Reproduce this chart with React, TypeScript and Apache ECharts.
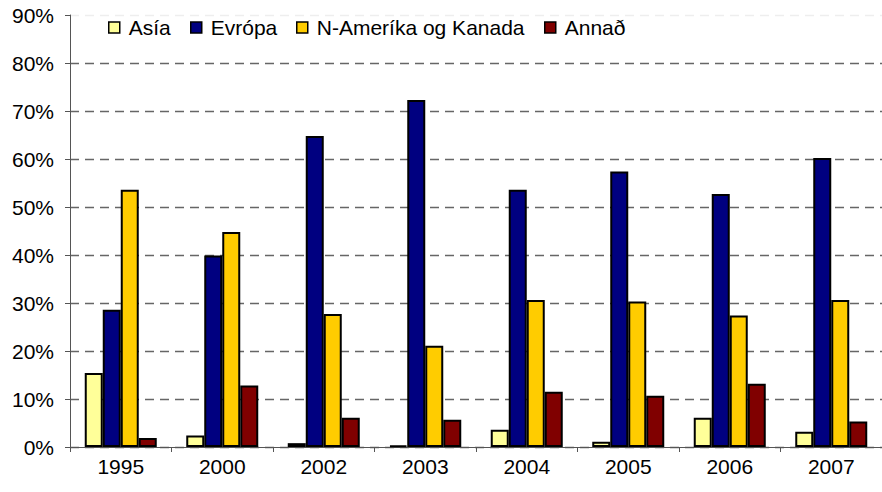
import React, { useEffect, useRef } from "react";
import * as echarts from "echarts";

const categories = ["1995", "2000", "2002", "2003", "2004", "2005", "2006", "2007"];
const asia = [15.4, 2.4, 0.8, 0.3, 3.6, 1.1, 6.1, 3.2];
const evropa = [28.6, 39.9, 64.8, 72.3, 53.6, 57.4, 52.7, 60.2];
const namerika = [53.6, 44.8, 27.7, 21.1, 30.6, 30.3, 27.4, 30.6];
const annad = [1.9, 12.8, 6.1, 5.7, 11.5, 10.7, 13.2, 5.3];
const seriesNames = ["Asía", "Evrópa", "N-Ameríka og Kanada", "Annað"];
const seriesColors = ["#FFFF99", "#000080", "#FFCC00", "#800000"];
const legendLeft = [108, 190, 296, 544];

const FONT = "'Liberation Sans', Arial, sans-serif";

export default function App() {
  const ref = useRef<HTMLDivElement>(null);
  useEffect(() => {
    if (!ref.current) return;
    const chart = echarts.init(ref.current, null, { renderer: "svg" });
    const dataSets = [asia, evropa, namerika, annad];
    const option = {
      animation: false,
      backgroundColor: "#ffffff",
      textStyle: { fontFamily: FONT },
      legend: seriesNames.map((n, i) => ({
        data: [n],
        left: legendLeft[i],
        top: 17,
        padding: 0,
        itemWidth: 11,
        itemHeight: 11,
        icon: "rect",
        itemStyle: { borderColor: "#000", borderWidth: 1.5 },
        textStyle: {
          fontFamily: FONT,
          fontSize: 21,
          color: "#000",
          lineHeight: 20,
          padding: [0, 0, 0, 4],
        },
      })),
      grid: { left: 70, top: 15, width: 822, bottom: 45, containLabel: false },
      xAxis: {
        type: "category",
        data: categories,
        axisLine: { lineStyle: { color: "#555", width: 1 } },
        axisTick: { show: true, length: 5, lineStyle: { color: "#555" }, alignWithLabel: false },
        axisLabel: { fontFamily: FONT, fontSize: 21, color: "#000", margin: 9, interval: 0 },
      },
      yAxis: {
        type: "value",
        min: 0,
        max: 90,
        interval: 10,
        axisLine: { show: true, lineStyle: { color: "#555", width: 1 } },
        axisTick: { show: true, length: 5, lineStyle: { color: "#555" } },
        axisLabel: { fontFamily: FONT, fontSize: 21, color: "#000", margin: 16, formatter: "{value}%" },
        splitLine: {
          show: true,
          lineStyle: {
            color: ["#666", "#666", "#666", "#666", "#666", "#666", "#666", "#666", "#666", "#eeeeee"],
            type: [9, 6],
            width: 1.4,
          },
        },
      },
      series: seriesNames.map((n, i) => ({
        name: n,
        type: "bar",
        data: dataSets[i],
        barWidth: 18,
        barGap: "0%",
        itemStyle: { color: seriesColors[i], borderColor: "#000", borderWidth: 2 },
      })),
    };
    chart.setOption(option);
    return () => chart.dispose();
  }, []);
  return (
    <div
      ref={ref}
      style={{ position: "fixed", left: 0, top: 0, width: 882, height: 492 }}
    />
  );
}
